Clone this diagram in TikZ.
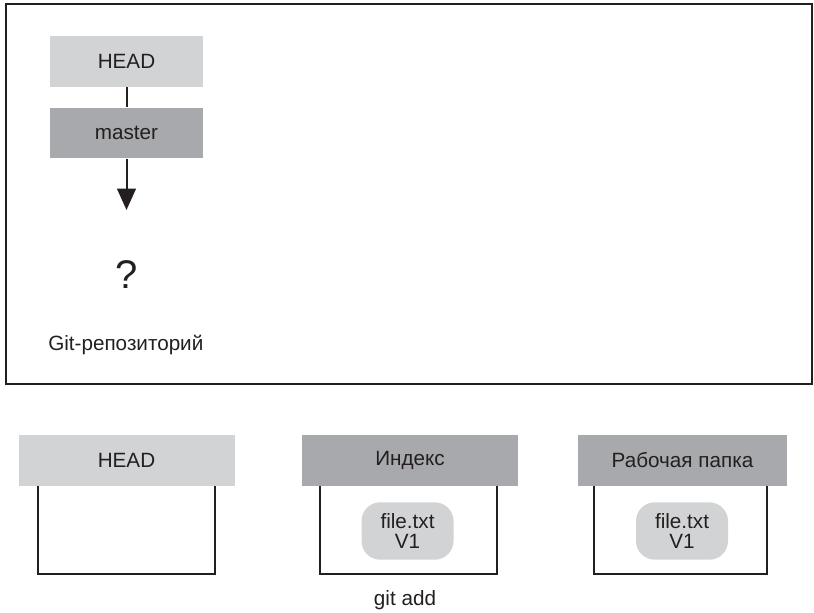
\documentclass[tikz,border=0pt]{standalone}
\usepackage{fontspec}
\setmainfont{Liberation Sans}
\usetikzlibrary{arrows.meta,positioning}
\definecolor{lightgr}{HTML}{D1D3D4}
\definecolor{darkgr}{HTML}{A7A9AC}
\definecolor{ink}{HTML}{231F20}

\begin{document}
\begin{tikzpicture}[
    x=0.75pt, y=-0.75pt,
    every node/.style={text=ink, font=\fontsize{15.5}{15}\selectfont},
    hdr/.style={fill=lightgr, minimum width=162pt, minimum height=38pt, inner sep=0pt},
    refbox/.style={fill=lightgr, minimum width=115pt, minimum height=38pt, inner sep=0pt},
    bodybox/.style={minimum width=132pt, minimum height=66pt, inner sep=0pt},
    pill/.style={fill=lightgr, rounded corners=14pt, minimum width=69pt, minimum height=43pt, align=center, inner sep=0pt},
    ln/.style={draw=ink, line width=1.5pt},
    arr/.style={-{Triangle[length=16pt, width=14pt]}, ln}
]
\useasboundingbox (0,0) rectangle (814,612);

% Git-репозиторий
\draw[ink, line width=2pt] (6,4) rectangle (812,384);
\node[refbox] (rhead) at (126.5,61.5) {HEAD};
\node[refbox, fill=darkgr] (master) at (126.5,133) {master};
\coordinate (tip) at (126.5,210);
\node[font=\fontsize{30}{32}\selectfont] (quest) at (126.5,275) {?};
\node[anchor=west, inner sep=0pt] (repo) at (48,345) {Git-репозиторий};

\draw[ln] (rhead) -- (master);
\draw[arr] (master) -- (tip);

% три дерева
\node[hdr] (thead) at (126.5,460.5) {HEAD};
\node[bodybox] (bhead) at (126.5,530) {};

\node[hdr, fill=darkgr] (tidx) at (410,460.5) {Индекс};
\node[bodybox] (bidx) at (408.5,530) {};
\node[pill] (fidx) at (407.5,531) {file.txt\\V1};
\node (gitadd) at (405,600) {git add};

\node[hdr, fill=darkgr, minimum width=157pt] (twork) at (682.5,460.5) {Рабочая папка};
\node[bodybox, minimum width=130pt] (bwork) at (680.5,530) {};
\node[pill] (fwork) at (682,531) {file.txt\\V1};

\draw[ln] (bhead.north west) |- (bhead.south east) -- (bhead.north east);
\draw[ln] (bidx.north west) |- (bidx.south east) -- (bidx.north east);
\draw[ln] (bwork.north west) |- (bwork.south east) -- (bwork.north east);
\end{tikzpicture}
\end{document}
